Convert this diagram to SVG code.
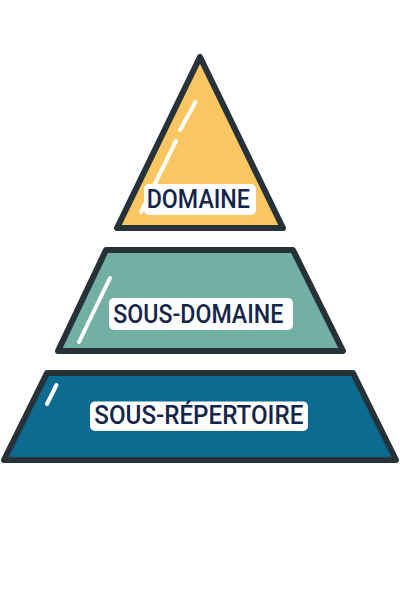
<svg xmlns="http://www.w3.org/2000/svg" width="400" height="600" viewBox="0 0 400 600">
<style>
.shape{stroke:#263238;stroke-width:6;stroke-linejoin:round}
.hl{stroke:#ffffff;stroke-width:4;stroke-linecap:round;fill:none}
.box{fill:#ffffff}
.lbl{font-family:Roboto,"Liberation Sans",Arial,sans-serif;font-weight:500;fill:#14254a;text-anchor:start}
</style>
<rect width="400" height="600" fill="#ffffff"/>
<g id="domaine">
<polygon class="shape" points="200,57 117,228 283,228" fill="#F9C662"/>
<line class="hl" x1="195.5" y1="102" x2="180" y2="130"/>
<line class="hl" x1="176" y1="141" x2="141" y2="212"/>
<rect class="box" x="144" y="184" width="112" height="31" rx="5"/>
<text class="lbl" x="146.7" y="207.7" font-size="25" textLength="103.3" lengthAdjust="spacingAndGlyphs">DOMAINE</text>
</g>
<g id="sous-domaine">
<polygon class="shape" points="106,250 293,250 343,351 58,351" fill="#72B0A4"/>
<line class="hl" x1="110" y1="278" x2="79" y2="342"/>
<rect class="box" x="109" y="298" width="184" height="32" rx="5"/>
<text class="lbl" x="113.3" y="322.7" font-size="26" textLength="170" lengthAdjust="spacingAndGlyphs">SOUS-DOMAINE</text>
</g>
<g id="sous-repertoire">
<polygon class="shape" points="47,373 353,373 396,460 4,460" fill="#0D6B91"/>
<line class="hl" x1="56.5" y1="385" x2="47" y2="404"/>
<rect class="box" x="90" y="401.5" width="218" height="29.5" rx="5"/>
<text class="lbl" x="94.3" y="424.3" font-size="25" textLength="209" lengthAdjust="spacingAndGlyphs">SOUS-RÉPERTOIRE</text>
</g>
<g id="connectors"></g>
</svg>
